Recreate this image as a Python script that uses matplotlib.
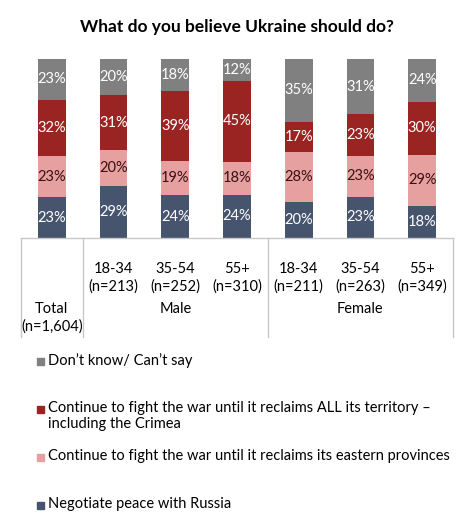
import matplotlib.pyplot as plt
import matplotlib.patches as mpatches
import numpy as np

plt.rcParams['font.family'] = ['Lato', 'DejaVu Sans']

# data
groupes = ["Total\n(n=1,604)", "18-34\n(n=213)", "35-54\n(n=252)", "55+\n(n=310)",
           "18-34\n(n=211)", "35-54\n(n=263)", "55+\n(n=349)"]
negocier = [23, 29, 24, 24, 20, 23, 18]
provinces = [23, 20, 19, 18, 28, 23, 29]
crimee = [32, 31, 39, 45, 17, 23, 30]
nsp = [23, 20, 18, 12, 35, 31, 24]

series = [negocier, provinces, crimee, nsp]
couleurs = ["#46546e", "#e6a0a0", "#9a2421", "#808080"]
couleurs_txt = ["white", "#3a1010", "white", "white"]
legende = ["Don\u2019t know/ Can\u2019t say",
           "Continue to fight the war until it reclaims ALL its territory \u2013\nincluding the Crimea",
           "Continue to fight the war until it reclaims its eastern provinces",
           "Negotiate peace with Russia"]
couleurs_leg = ["#808080", "#9a2421", "#e6a0a0", "#46546e"]

fig = plt.figure(figsize=(4.74, 5.28), dpi=100)
ax = fig.add_axes([21/474, 1-238/528, 432/474, 179/528])

X = np.arange(len(groupes))
totaux = np.sum(series, axis=0)
bas = np.zeros(len(groupes))
for vals, c, ct in zip(series, couleurs, couleurs_txt):
    h = np.array(vals) / totaux * 100
    ax.bar(X, h, bottom=bas, width=0.45, color=c)
    for xi, b, hi, v in zip(X, bas, h, vals):
        ax.text(xi, b + hi/2, f"{v}%", ha='center', va='center', color=ct, fontsize=10.5)
    bas += h

ax.set_xlim(-0.5, 6.5)
ax.set_ylim(0, 100)
ax.axis('off')

# tableau des categories sous les barres
lc = "#c8c8c8"
bas_tab = -0.555
tr = ax.get_xaxis_transform()
ax.plot([-0.5, 6.5], [0, 0], color=lc, lw=1, transform=tr, clip_on=False)
for xv in [-0.5, 0.5, 3.5, 6.5]:
    ax.plot([xv, xv], [0, bas_tab], color=lc, lw=1, transform=tr, clip_on=False)

for i in range(1, 7):
    ax.text(X[i], -0.223, groupes[i], ha='center', va='center', fontsize=10.5,
            transform=tr, linespacing=1.3)
ax.text(X[0], -0.447, groupes[0], ha='center', va='center', fontsize=10.5,
        transform=tr, linespacing=1.3)
ax.text(2, -0.397, "Male", ha='center', va='center', fontsize=10.5, transform=tr)
ax.text(5, -0.397, "Female", ha='center', va='center', fontsize=10.5, transform=tr)

fig.text(237/474, 1-27/528, "What do you believe Ukraine should do?", ha='center', va='center',
         fontsize=12.5, fontweight='bold')

# legende
for k, (lab, c) in enumerate(zip(legende, couleurs_leg)):
    y = 361 + 48*k
    fig.patches.append(mpatches.Rectangle((37/474, 1-(y+4)/528), 7/474, 7/528,
                                          color=c, transform=fig.transFigure))
    fig.text(48/474, 1-(y-8)/528, lab, ha='left', va='top', fontsize=10.5, linespacing=1.2)

fig.savefig("out.png", dpi=100)
